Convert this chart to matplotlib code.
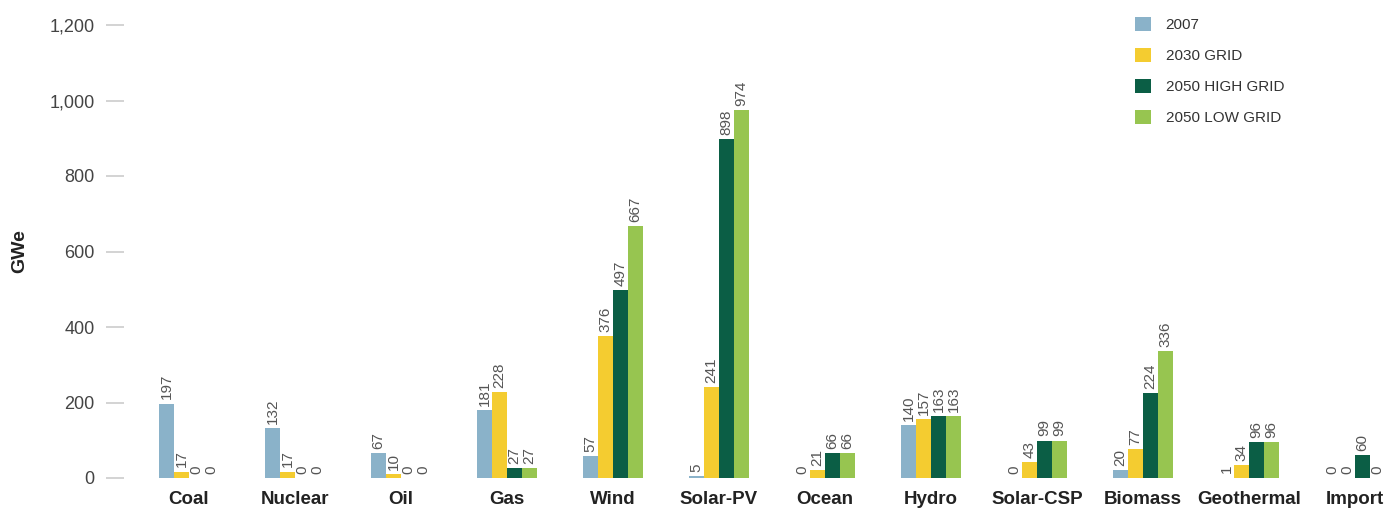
import matplotlib
matplotlib.use("Agg")
import matplotlib.pyplot as plt
import numpy as np
from matplotlib.ticker import FuncFormatter

plt.rcParams['font.family'] = ['Liberation Sans', 'DejaVu Sans']

categories = ["Coal", "Nuclear", "Oil", "Gas", "Wind", "Solar-PV", "Ocean", "Hydro",
              "Solar-CSP", "Biomass", "Geothermal", "Import"]
series_names = ["2007", "2030 GRID", "2050 HIGH GRID", "2050 LOW GRID"]
v2007 = [197, 132, 67, 181, 57, 5, 0, 140, 0, 20, 1, 0]
v2030 = [17, 17, 10, 228, 376, 241, 21, 157, 43, 77, 34, 0]
v2050_high = [0, 0, 0, 27, 497, 898, 66, 163, 99, 224, 96, 60]
v2050_low = [0, 0, 0, 27, 667, 974, 66, 163, 99, 336, 96, 0]
yticks = [0, 200, 400, 600, 800, 1000, 1200]

colors = ["#8AB2C9", "#F4CC30", "#0B5E45", "#97C550"]
series = [v2007, v2030, v2050_high, v2050_low]

fig = plt.figure(figsize=(13.84, 5.12), dpi=100)
W, H = 1384, 512
ax = fig.add_axes([124 / W, 34 / H, (1384 - 124) / W, 453 / H])

x = np.arange(len(categories))
bw = 0.1415
for i, (vals, c, name) in enumerate(zip(series, colors, series_names)):
    pos = x + (i - 1.5) * bw
    ax.bar(pos, vals, width=bw, color=c, label=name, linewidth=0)
    for p, v in zip(pos, vals):
        ax.annotate(f"{v}", (p, v), xytext=(0, 3), textcoords="offset points",
                    rotation=90, ha="center", va="bottom", fontsize=11,
                    color="#555555", annotation_clip=False)

ax.set_xlim(-0.613, 11.274)
ax.set_ylim(0, 1200)
ax.set_yticks(yticks)
ax.yaxis.set_major_formatter(FuncFormatter(lambda v, p: f"{int(v):,}"))
ax.tick_params(axis='y', length=13, width=1.2, color="#cccccc", pad=8,
               labelsize=13, labelcolor="#444444")
ax.set_xticks(x)
ax.set_xticklabels(categories, fontweight="bold", fontsize=13.5, color="#222222")
ax.tick_params(axis='x', length=0, pad=9)
for s in ax.spines.values():
    s.set_visible(False)
ax.set_ylabel("GWe", fontweight="bold", fontsize=14, color="#222222")
ax.yaxis.set_label_coords(-96 / 1260, 0.5)

fig.legend(loc="upper left", bbox_to_anchor=(1129 / W, 1 - 11 / H), frameon=False,
           fontsize=11, handlelength=1.05, handleheight=1.05, handletextpad=0.95,
           labelspacing=1.02, labelcolor="#333333", borderaxespad=0)

fig.savefig("out.png", dpi=100)
